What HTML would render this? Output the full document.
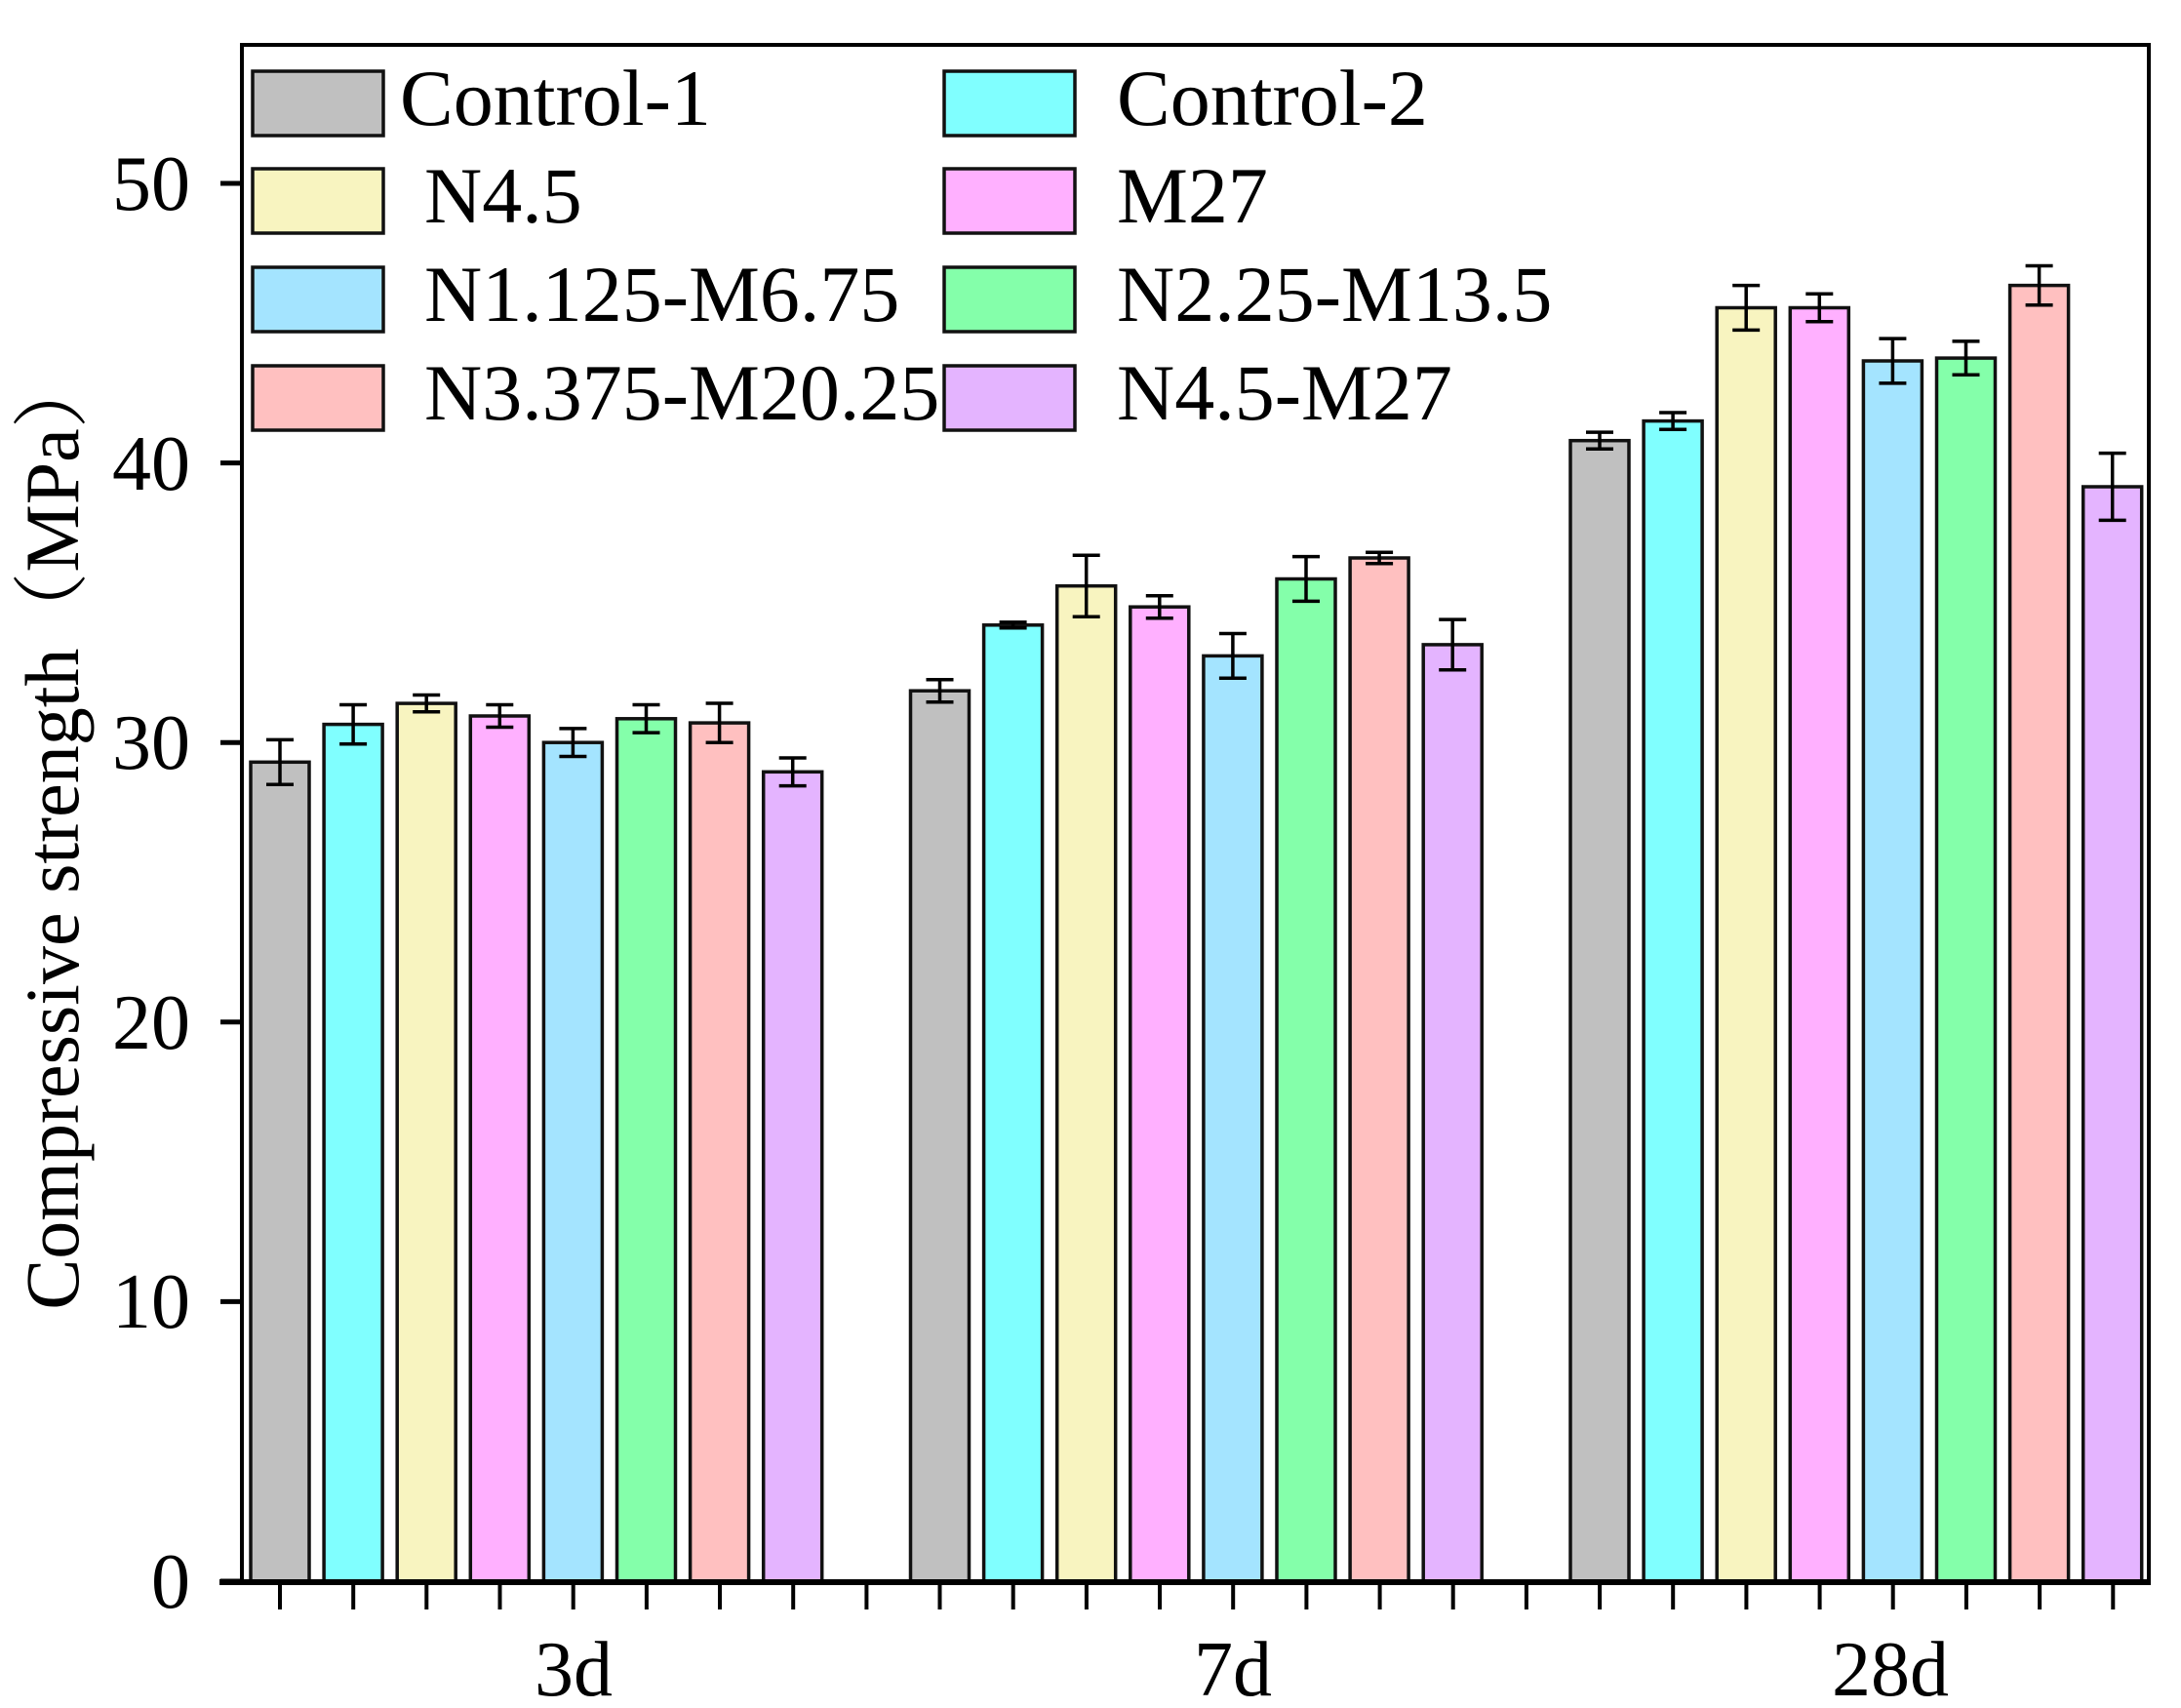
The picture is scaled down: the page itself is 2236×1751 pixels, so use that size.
<!DOCTYPE html>
<html><head><meta charset="utf-8"><style>
html,body{margin:0;padding:0;background:#fff;}
svg{display:block;}
text{font-family:"Liberation Serif","Noto Serif CJK SC",serif;fill:#000;}
</style></head><body>
<svg width="2236" height="1751" viewBox="0 0 2236 1751" xmlns="http://www.w3.org/2000/svg">
<g stroke="#111" stroke-width="3.5">
<rect x="257" y="781.3" width="60" height="839.7" fill="#c0c0c0"/>
<rect x="332.1" y="742.6" width="60" height="878.4" fill="#80ffff"/>
<rect x="407.2" y="721.1" width="60" height="899.9" fill="#f8f4c0"/>
<rect x="482.3" y="734" width="60" height="887" fill="#ffb0ff"/>
<rect x="557.4" y="761.2" width="60" height="859.8" fill="#a4e4ff"/>
<rect x="632.5" y="736.8" width="60" height="884.2" fill="#84ffaa"/>
<rect x="707.6" y="741.1" width="60" height="879.9" fill="#ffc0c0"/>
<rect x="782.7" y="791.3" width="60" height="829.7" fill="#e4b4ff"/>
<rect x="933.5" y="708.2" width="60" height="912.8" fill="#c0c0c0"/>
<rect x="1008.6" y="640.8" width="60" height="980.2" fill="#80ffff"/>
<rect x="1083.7" y="600.7" width="60" height="1020.3" fill="#f8f4c0"/>
<rect x="1158.8" y="622.2" width="60" height="998.8" fill="#ffb0ff"/>
<rect x="1233.9" y="672.4" width="60" height="948.6" fill="#a4e4ff"/>
<rect x="1309" y="593.5" width="60" height="1027.5" fill="#84ffaa"/>
<rect x="1384.1" y="572" width="60" height="1049" fill="#ffc0c0"/>
<rect x="1459.2" y="660.9" width="60" height="960.1" fill="#e4b4ff"/>
<rect x="1610" y="451.7" width="60" height="1169.3" fill="#c0c0c0"/>
<rect x="1685.1" y="431.6" width="60" height="1189.4" fill="#80ffff"/>
<rect x="1760.2" y="315.5" width="60" height="1305.5" fill="#f8f4c0"/>
<rect x="1835.3" y="315.5" width="60" height="1305.5" fill="#ffb0ff"/>
<rect x="1910.4" y="370" width="60" height="1251" fill="#a4e4ff"/>
<rect x="1985.5" y="367.1" width="60" height="1253.9" fill="#84ffaa"/>
<rect x="2060.6" y="292.6" width="60" height="1328.4" fill="#ffc0c0"/>
<rect x="2135.7" y="499" width="60" height="1122" fill="#e4b4ff"/>
</g>
<g stroke="#000" stroke-width="3.5" fill="none">
<path d="M287 758.4V804.2M273 758.4H301M273 804.2H301"/>
<path d="M362.1 722.5V762.7M348.1 722.5H376.1M348.1 762.7H376.1"/>
<path d="M437.2 712.5V729.7M423.2 712.5H451.2M423.2 729.7H451.2"/>
<path d="M512.3 722.5V745.5M498.3 722.5H526.3M498.3 745.5H526.3"/>
<path d="M587.4 746.9V775.5M573.4 746.9H601.4M573.4 775.5H601.4"/>
<path d="M662.5 722.5V751.1M648.5 722.5H676.5M648.5 751.1H676.5"/>
<path d="M737.6 721V761.2M723.6 721H751.6M723.6 761.2H751.6"/>
<path d="M812.7 777V805.6M798.7 777H826.7M798.7 805.6H826.7"/>
<path d="M963.5 696.7V719.7M949.5 696.7H977.5M949.5 719.7H977.5"/>
<path d="M1038.6 637.9V643.7M1024.6 637.9H1052.6M1024.6 643.7H1052.6"/>
<path d="M1113.7 569.2V632.2M1099.7 569.2H1127.7M1099.7 632.2H1127.7"/>
<path d="M1188.8 610.7V633.7M1174.8 610.7H1202.8M1174.8 633.7H1202.8"/>
<path d="M1263.9 649.5V695.3M1249.9 649.5H1277.9M1249.9 695.3H1277.9"/>
<path d="M1339 570.6V616.4M1325 570.6H1353M1325 616.4H1353"/>
<path d="M1414.1 566.3V577.7M1400.1 566.3H1428.1M1400.1 577.7H1428.1"/>
<path d="M1489.2 635.1V686.7M1475.2 635.1H1503.2M1475.2 686.7H1503.2"/>
<path d="M1640 443.1V460.3M1626 443.1H1654M1626 460.3H1654"/>
<path d="M1715.1 423V440.2M1701.1 423H1729.1M1701.1 440.2H1729.1"/>
<path d="M1790.2 292.6V338.4M1776.2 292.6H1804.2M1776.2 338.4H1804.2"/>
<path d="M1865.3 301.2V329.8M1851.3 301.2H1879.3M1851.3 329.8H1879.3"/>
<path d="M1940.4 347.1V392.9M1926.4 347.1H1954.4M1926.4 392.9H1954.4"/>
<path d="M2015.5 349.9V384.3M2001.5 349.9H2029.5M2001.5 384.3H2029.5"/>
<path d="M2090.6 272.5V312.7M2076.6 272.5H2104.6M2076.6 312.7H2104.6"/>
<path d="M2165.7 464.6V533.4M2151.7 464.6H2179.7M2151.7 533.4H2179.7"/>
</g>
<g stroke="#000" fill="none">
<path d="M248 1621V46H2203V1621" stroke-width="4"/>
<path d="M225 1622H2205" stroke-width="6"/>
<path d="M226 1621H248M226 1334.4H248M226 1047.8H248M226 761.2H248M226 474.6H248M226 188H248" stroke-width="5"/>
<path d="M287 1622v28M362.2 1622v28M437.3 1622v28M512.5 1622v28M587.7 1622v28M662.9 1622v28M738 1622v28M813.2 1622v28M888.4 1622v28M963.5 1622v28M1038.7 1622v28M1113.9 1622v28M1189 1622v28M1264.2 1622v28M1339.4 1622v28M1414.6 1622v28M1489.7 1622v28M1564.9 1622v28M1640.1 1622v28M1715.2 1622v28M1790.4 1622v28M1865.6 1622v28M1940.7 1622v28M2015.9 1622v28M2091.1 1622v28M2166.3 1622v28" stroke-width="4"/>
</g>
<g font-size="80" text-anchor="end">
<text x="195" y="1648">0</text>
<text x="195" y="1361">10</text>
<text x="195" y="1075">20</text>
<text x="195" y="788">30</text>
<text x="195" y="502">40</text>
<text x="195" y="215">50</text>
</g>
<g font-size="80" text-anchor="middle">
<text x="588" y="1738">3d</text>
<text x="1264" y="1738">7d</text>
<text x="1938" y="1738">28d</text>
</g>
<text transform="translate(80,852) rotate(-90)" font-size="78" text-anchor="middle">Compressive strength（MPa）</text>
<g stroke="#111" stroke-width="3.5">
<rect x="259" y="73" width="134" height="66" fill="#c0c0c0"/>
<rect x="259" y="173" width="134" height="66" fill="#f8f4c0"/>
<rect x="259" y="274" width="134" height="66" fill="#a4e4ff"/>
<rect x="259" y="375" width="134" height="66" fill="#ffc0c0"/>
<rect x="968" y="73" width="134" height="66" fill="#80ffff"/>
<rect x="968" y="173" width="134" height="66" fill="#ffb0ff"/>
<rect x="968" y="274" width="134" height="66" fill="#84ffaa"/>
<rect x="968" y="375" width="134" height="66" fill="#e4b4ff"/>
</g>
<g font-size="82">
<text x="410" y="128">Control-1</text>
<text x="435" y="228">N4.5</text>
<text x="435" y="329">N1.125-M6.75</text>
<text x="435" y="430">N3.375-M20.25</text>
<text x="1145" y="128">Control-2</text>
<text x="1145" y="228">M27</text>
<text x="1145" y="329">N2.25-M13.5</text>
<text x="1145" y="430">N4.5-M27</text>
</g>
</svg>
</body></html>
